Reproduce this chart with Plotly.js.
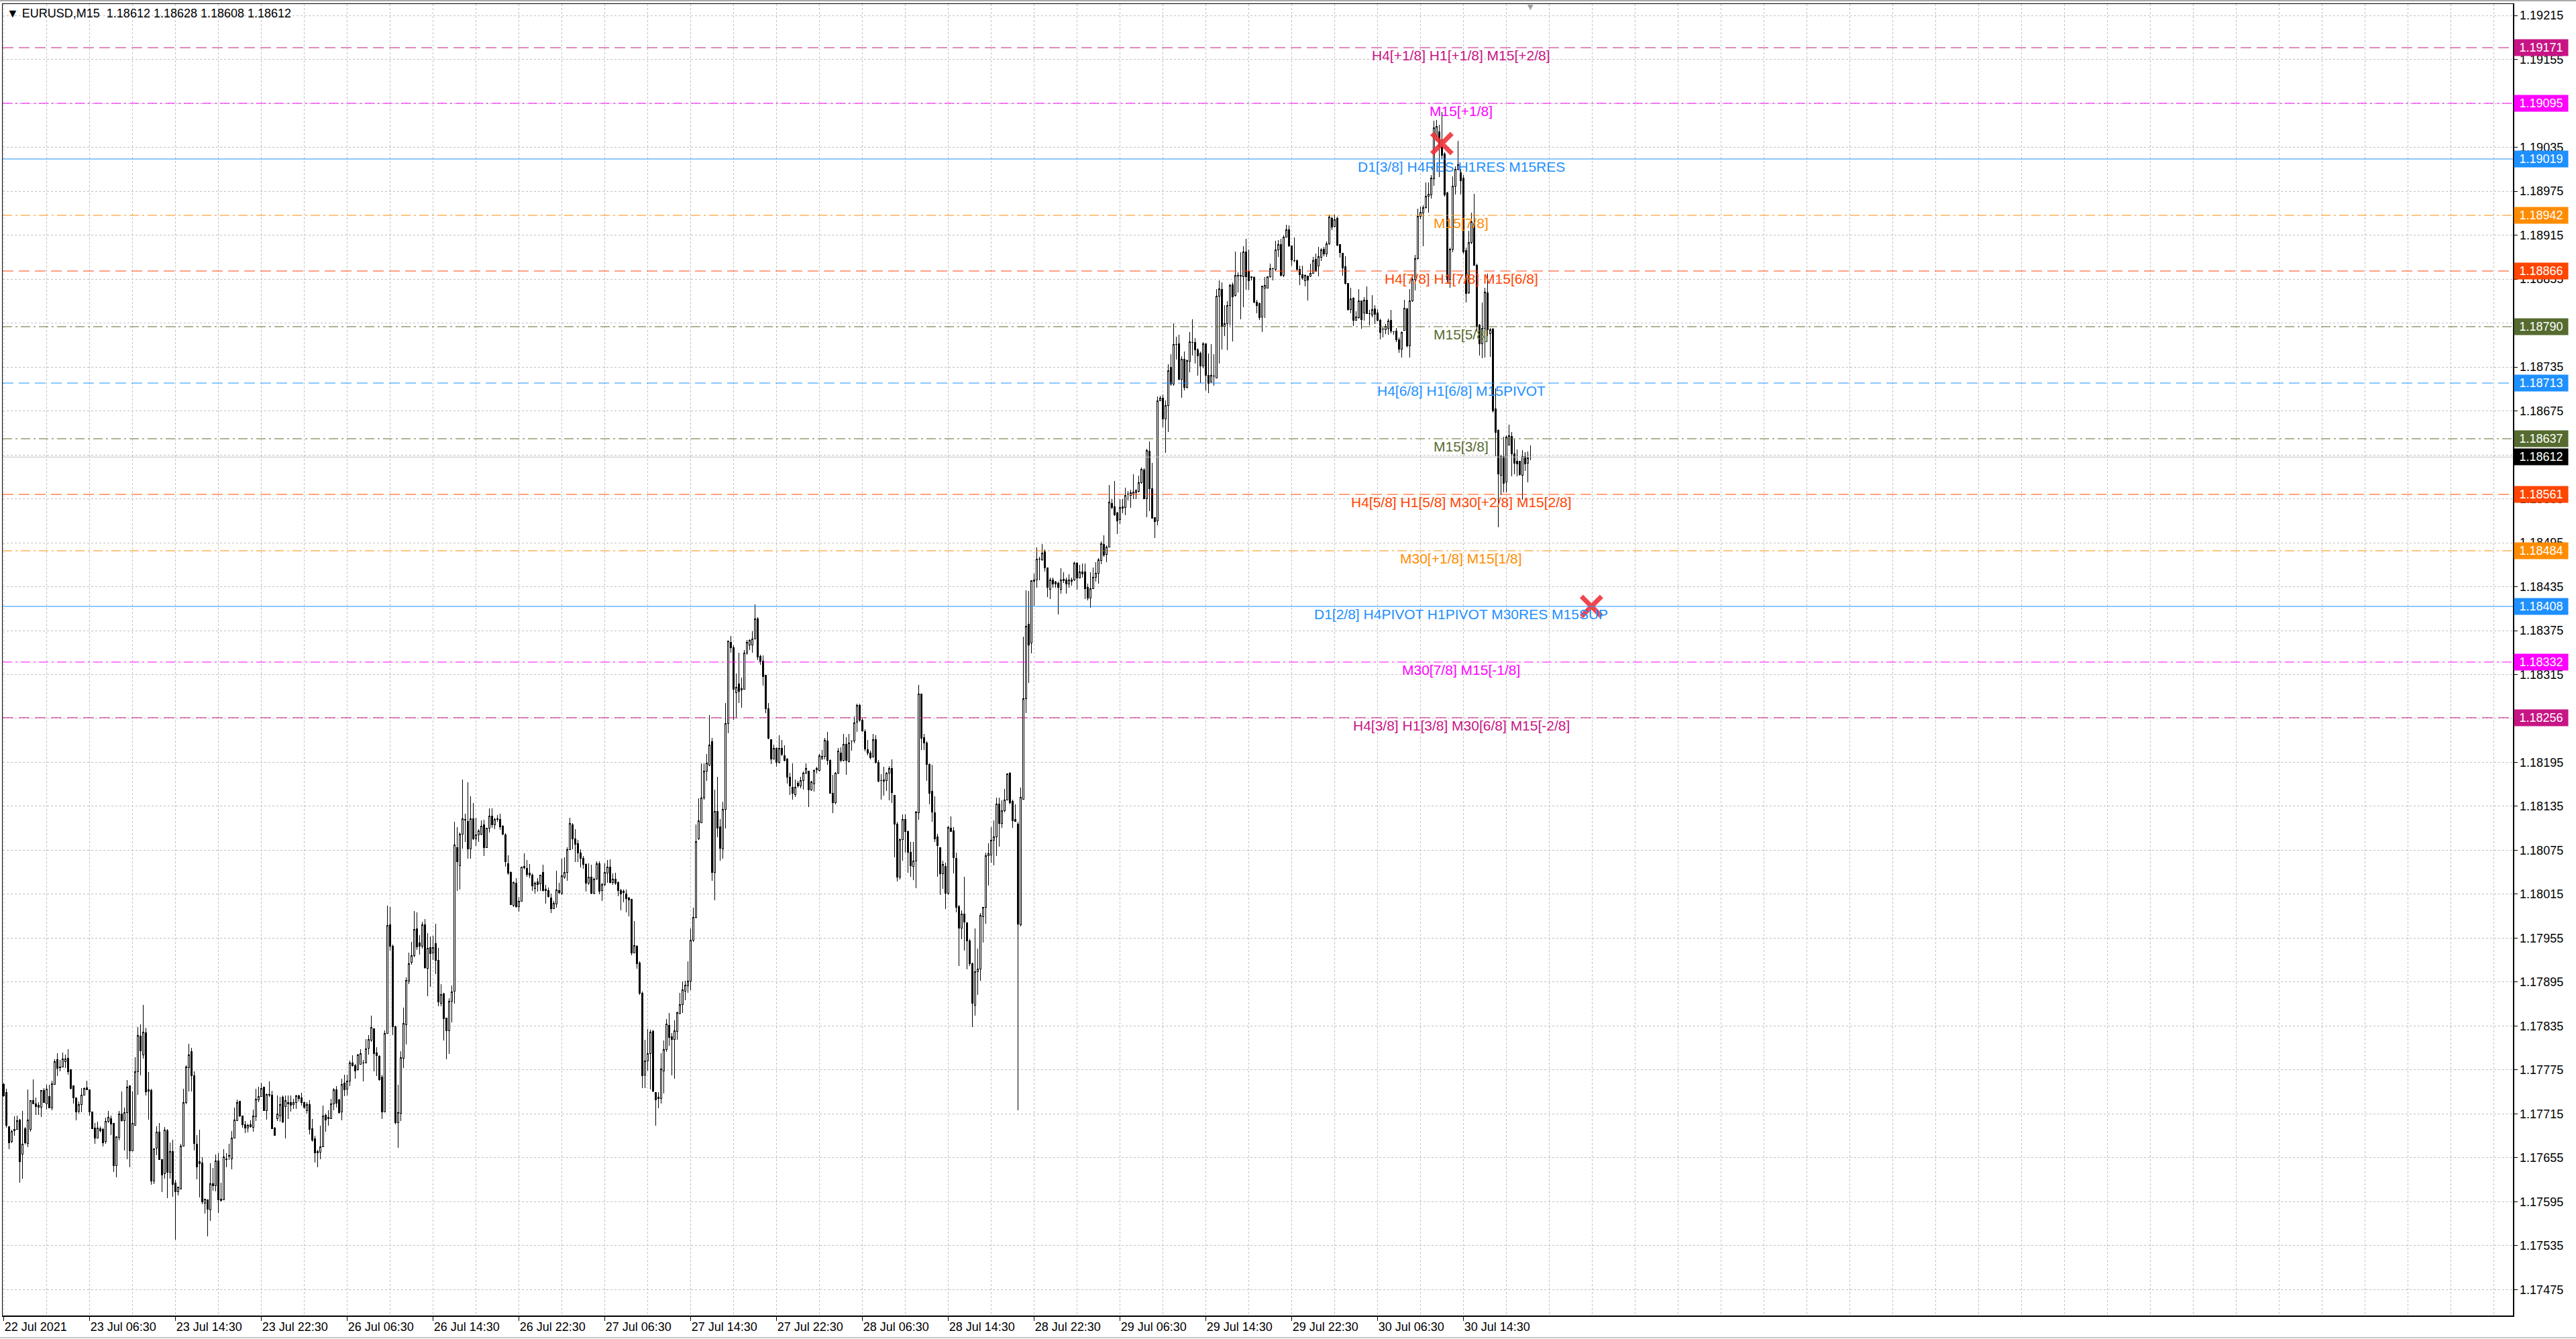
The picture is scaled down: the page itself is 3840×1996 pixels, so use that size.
<!DOCTYPE html>
<html>
<head>
<meta charset="utf-8">
<script src="https://cdn.plot.ly/plotly-3.0.1.min.js"></script>
<style>
  html, body { margin: 0; padding: 0; background: #fff; overflow: hidden; }
  #chart { width: 3840px; height: 1996px; }
  /* keep the thin candle outlines sharp */
  #chart .boxlayer path { shape-rendering: crispEdges; }
</style>
</head>
<body>
<div id="chart"></div>
<script>
/*
EURUSD M15 chart with Murrey-style level lines.
Bar prices are kept in points above 1.17000 (1 point = 0.00001).
*/
var symbolName = 'EURUSD';
var timeframe = 'M15';

var openPts = [
  755,744,698,677,692,694,707,660,695,675,
  694,733,729,727,724,747,729,739,723,755,
  789,779,779,786,791,775,753,737,719,728,
  741,751,748,718,696,682,695,694,677,705,
  709,702,644,683,715,706,717,753,665,699,
  773,821,796,826,746,747,623,668,690,653,
  633,692,635,664,621,609,612,671,731,778,
  800,767,674,650,648,593,598,584,620,617,
  651,597,598,654,658,654,682,706,732,712,
  700,696,700,697,711,734,739,752,720,742,
  741,696,709,712,738,725,731,731,728,731,
  740,737,731,720,728,695,681,664,663,670,
  713,709,709,729,748,734,718,757,749,760,
  785,781,775,783,785,785,805,816,831,798,
  794,765,718,825,973,944,834,703,716,791,
  837,896,922,931,968,949,944,973,914,942,
  935,948,925,866,879,846,829,869,883,1079,
  1054,1097,1117,1114,1077,1118,1091,1096,1097,1110,
  1079,1105,1122,1110,1118,1117,1108,1096,1057,1045,
  1000,1030,998,1005,1053,1050,1044,1041,1023,1032,
  1029,1045,1022,1020,1010,995,1002,1020,1016,1038,
  1045,1076,1110,1091,1084,1071,1064,1056,1030,1038,
  1016,1036,1057,1020,1028,1044,1052,1031,1036,1031,
  1020,1019,1015,1010,1008,935,944,921,880,768,
  787,797,828,744,736,736,774,803,836,820,
  817,828,852,864,883,890,896,952,983,1091,
  1113,1146,1183,1191,1223,1045,1128,1107,1077,1131,
  1248,1359,1352,1290,1302,1294,1295,1344,1355,1355,
  1364,1391,1340,1333,1314,1268,1226,1200,1214,1195,
  1214,1204,1200,1175,1161,1151,1167,1163,1170,1180,
  1183,1157,1166,1185,1184,1200,1203,1224,1198,1153,
  1140,1180,1208,1198,1220,1196,1224,1224,1250,1273,
  1253,1237,1212,1208,1203,1226,1195,1170,1169,1170,
  1180,1187,1150,1111,1038,1090,1117,1101,1072,1053,
  1060,1126,1288,1229,1222,1192,1156,1126,1093,1079,
  1043,1053,1016,1105,1102,1064,998,969,988,976,
  951,920,863,909,913,984,997,1068,1069,1089,
  1093,1138,1112,1129,1144,1180,1142,1117,1111,973,
  1145,1282,1384,1358,1442,1444,1473,1472,1483,1461,
  1431,1444,1441,1440,1431,1445,1444,1439,1442,1444,
  1467,1447,1455,1455,1434,1419,1432,1448,1453,1471,
  1493,1479,1489,1549,1544,1536,1527,1542,1543,1561,
  1560,1561,1563,1565,1577,1594,1555,1620,1569,1529,
  1525,1689,1692,1664,1682,1735,1712,1766,1767,1718,
  1746,1707,1743,1768,1768,1758,1754,1736,1767,1724,
  1714,1723,1720,1832,1841,1790,1794,1819,1847,1833,
  1860,1859,1858,1892,1866,1858,1857,1823,1822,1803,
  1843,1843,1858,1869,1868,1895,1902,1860,1912,1922,
  1900,1880,1880,1868,1861,1853,1859,1859,1863,1882,
  1873,1885,1896,1889,1903,1938,1927,1938,1902,1890,
  1872,1849,1813,1829,1799,1802,1825,1809,1826,1808,
  1806,1814,1809,1799,1787,1786,1788,1799,1783,1784,
  1772,1759,1785,1814,1764,1825,1855,1883,1941,1945,
  1953,1968,1970,1992,2051,2056,2036,2026,1973,1855,
  1896,1982,2005,2000,1993,1894,1836,1905,1931,1874,
  1792,1767,1788,1836,1780,1787,1678,1648,1587,1613,
  1578,1628,1640,1616,1606,1606,1587,1613,1604,1612
];

var highPts = [
  758,749,698,693,712,713,708,719,697,748,
  733,762,737,731,747,750,755,755,760,790,
  798,789,799,796,803,775,754,737,732,750,
  751,760,748,718,703,704,698,696,710,719,
  713,702,684,719,746,724,761,753,746,792,
  834,837,864,833,772,749,667,698,703,653,
  697,694,676,680,625,615,674,749,781,811,
  805,773,686,693,656,599,598,648,641,660,
  661,621,667,661,674,692,724,735,733,713,
  705,702,706,721,749,752,758,752,743,759,
  747,697,740,738,740,740,740,740,736,741,
  741,744,732,731,734,708,685,666,699,726,
  715,720,736,750,753,736,763,769,769,788,
  795,783,797,803,789,817,823,849,832,806,
  795,769,829,999,998,946,835,755,801,860,
  901,935,950,992,990,959,977,981,962,957,
  958,975,942,892,880,846,873,890,1114,1107,
  1099,1172,1125,1168,1149,1140,1119,1104,1116,1117,
  1106,1132,1132,1119,1123,1125,1109,1098,1068,1046,
  1032,1037,1011,1053,1071,1062,1056,1043,1032,1037,
  1042,1055,1028,1024,1016,1006,1047,1031,1064,1065,
  1079,1119,1112,1104,1089,1076,1067,1057,1057,1055,
  1038,1060,1060,1031,1057,1062,1063,1043,1044,1032,
  1022,1021,1021,1011,1009,978,945,923,882,816,
  831,830,830,745,745,798,815,845,853,825,
  843,855,880,896,897,923,968,997,1110,1146,
  1194,1194,1206,1260,1228,1158,1175,1118,1141,1276,
  1361,1368,1355,1316,1345,1311,1348,1362,1363,1374,
  1411,1393,1342,1341,1315,1276,1227,1219,1216,1232,
  1226,1218,1201,1181,1194,1172,1170,1175,1183,1194,
  1184,1170,1185,1189,1206,1212,1228,1237,1199,1178,
  1182,1215,1216,1234,1229,1234,1225,1258,1275,1275,
  1255,1240,1226,1211,1234,1232,1198,1179,1189,1182,
  1190,1199,1150,1114,1091,1124,1124,1102,1086,1086,
  1129,1301,1289,1234,1224,1194,1192,1149,1097,1079,
  1061,1058,1108,1121,1107,1072,1000,993,1039,976,
  954,922,968,941,989,998,1072,1085,1107,1116,
  1147,1147,1143,1159,1180,1182,1144,1138,1114,1161,
  1367,1430,1429,1444,1453,1489,1476,1493,1486,1461,
  1447,1447,1443,1442,1460,1455,1447,1452,1447,1469,
  1468,1465,1467,1467,1439,1455,1461,1468,1474,1497,
  1505,1491,1574,1555,1579,1537,1555,1555,1570,1566,
  1567,1588,1568,1587,1598,1597,1623,1633,1604,1530,
  1695,1696,1697,1689,1739,1752,1795,1776,1779,1750,
  1756,1745,1783,1800,1774,1761,1756,1769,1767,1753,
  1766,1752,1841,1853,1850,1819,1825,1849,1850,1893,
  1864,1892,1900,1910,1895,1858,1859,1827,1823,1846,
  1858,1859,1876,1871,1907,1908,1910,1915,1929,1928,
  1901,1912,1882,1873,1873,1861,1859,1876,1885,1890,
  1899,1897,1899,1906,1943,1940,1943,1940,1903,1891,
  1886,1849,1843,1830,1811,1841,1826,1830,1845,1813,
  1833,1819,1814,1801,1789,1794,1801,1813,1784,1788,
  1775,1784,1827,1816,1841,1859,1888,1951,1954,1956,
  1987,1987,1997,2071,2072,2066,2083,2028,1974,1898,
  1995,2009,2044,2005,1997,1898,1921,1946,1971,1876,
  1794,1823,1843,1862,1788,1788,1706,1650,1615,1640,
  1642,1656,1646,1636,1622,1607,1621,1619,1620,1628
];

var lowPts = [
  738,696,667,675,685,693,621,627,673,670,
  691,729,714,714,711,731,721,723,720,755,
  767,773,779,778,769,748,729,706,715,717,
  740,748,713,695,674,682,690,671,674,703,
  686,636,628,679,704,665,653,642,665,699,
  741,768,791,740,707,618,619,659,653,608,
  627,600,627,602,543,604,612,671,728,746,
  746,665,626,601,592,579,548,569,610,609,
  580,595,598,642,652,639,682,706,711,696,
  689,690,696,691,705,731,738,720,707,738,
  695,685,705,704,703,682,708,718,722,722,
  732,726,722,715,687,677,649,642,653,670,
  691,699,709,720,724,715,706,739,740,753,
  780,763,774,782,759,784,796,813,773,767,
  760,708,718,825,938,823,701,669,705,778,
  810,892,919,929,939,933,941,913,876,889,
  925,906,862,862,815,790,797,840,866,1020,
  1021,1077,1086,1064,1064,1089,1081,1086,1096,1067,
  1078,1099,1106,1104,1114,1103,1096,1053,1042,1000,
  998,997,991,1005,1049,1039,1037,1020,1016,1019,
  1020,1019,1002,1010,989,995,997,1015,1014,1036,
  1033,1075,1076,1059,1059,1052,1050,1019,1028,1015,
  1015,1036,1015,1006,1026,1031,1030,1028,1028,1012,
  993,1004,990,985,932,934,913,878,750,750,
  774,748,745,699,723,729,743,800,808,768,
  763,816,851,853,870,880,884,950,982,1089,
  1112,1144,1170,1190,1033,1007,1093,1061,1064,1105,
  1235,1345,1253,1257,1276,1270,1294,1342,1348,1345,
  1364,1335,1328,1300,1262,1227,1193,1199,1189,1194,
  1204,1196,1166,1151,1144,1148,1161,1160,1158,1179,
  1134,1156,1155,1180,1183,1199,1199,1192,1152,1126,
  1138,1179,1195,1196,1178,1195,1211,1221,1237,1250,
  1237,1210,1205,1199,1201,1194,1168,1144,1150,1156,
  1143,1140,1065,1032,1035,1061,1072,1044,1039,1034,
  1023,1117,1212,1212,1170,1138,1114,1086,1039,1014,
  1022,995,1014,1100,1043,990,917,954,938,912,
  917,834,849,878,897,949,975,1027,1058,1054,
  1067,1080,1106,1127,1143,1138,1106,1114,720,971,
  1144,1262,1304,1344,1409,1434,1444,1470,1456,1421,
  1418,1434,1434,1397,1425,1440,1425,1434,1436,1443,
  1431,1446,1447,1418,1416,1406,1432,1442,1439,1466,
  1476,1468,1489,1541,1532,1507,1521,1535,1533,1553,
  1543,1555,1555,1564,1576,1555,1530,1538,1528,1501,
  1519,1688,1653,1618,1646,1709,1709,1745,1717,1693,
  1703,1706,1728,1751,1740,1723,1713,1733,1703,1699,
  1714,1709,1720,1740,1759,1777,1758,1792,1770,1831,
  1837,1800,1817,1840,1840,1853,1822,1808,1799,1783,
  1802,1843,1857,1853,1866,1885,1859,1858,1912,1899,
  1873,1878,1866,1847,1854,1845,1826,1858,1862,1866,
  1859,1880,1886,1885,1902,1922,1926,1900,1884,1860,
  1848,1812,1808,1791,1798,1801,1787,1798,1807,1792,
  1803,1794,1797,1773,1775,1780,1779,1781,1779,1769,
  1754,1748,1785,1762,1748,1824,1839,1882,1937,1900,
  1951,1946,1965,1982,2044,1994,2019,1968,1850,1843,
  1892,1970,2003,1970,1890,1823,1835,1903,1874,1784,
  1751,1747,1748,1777,1749,1673,1613,1516,1560,1564,
  1564,1628,1586,1588,1586,1587,1554,1593,1577,1608
];

var closePts = [
  740,699,676,691,694,706,650,674,676,707,
  733,729,725,724,747,731,749,723,756,786,
  777,778,790,790,773,750,737,718,728,741,
  750,748,718,695,682,696,692,676,705,710,
  701,644,684,715,706,717,752,665,702,773,
  822,801,827,745,748,623,667,690,653,632,
  693,635,664,619,609,615,671,731,779,796,
  767,675,643,647,595,599,585,620,617,651,
  598,599,656,653,657,682,707,731,712,700,
  696,699,698,712,735,739,750,720,742,741,
  695,686,715,728,704,733,729,727,731,740,
  736,731,724,728,694,679,662,662,670,712,
  707,710,729,748,730,717,755,748,760,785,
  781,774,796,797,785,804,817,833,797,795,
  762,718,825,972,944,834,703,717,792,839,
  897,920,931,967,943,944,973,915,941,934,
  942,925,868,878,845,829,869,882,1082,1059,
  1097,1118,1116,1077,1118,1091,1096,1102,1108,1079,
  1105,1122,1110,1117,1117,1107,1097,1059,1044,1001,
  1031,998,1005,1052,1051,1042,1041,1026,1030,1028,
  1041,1020,1020,1012,995,1003,1021,1017,1040,1045,
  1076,1112,1091,1083,1071,1064,1056,1030,1038,1016,
  1036,1057,1019,1028,1045,1052,1031,1036,1030,1020,
  1015,1017,1009,1007,935,945,920,880,767,787,
  797,827,746,734,738,776,803,838,819,817,
  829,853,864,884,891,896,952,983,1087,1115,
  1146,1183,1194,1219,1045,1128,1105,1078,1131,1248,
  1361,1352,1295,1298,1292,1296,1344,1359,1362,1364,
  1391,1339,1333,1312,1268,1228,1200,1214,1195,1214,
  1206,1198,1175,1163,1153,1161,1163,1170,1180,1187,
  1157,1168,1184,1187,1204,1203,1225,1198,1153,1140,
  1180,1211,1198,1220,1198,1222,1224,1249,1273,1253,
  1238,1213,1208,1201,1226,1195,1169,1170,1171,1180,
  1187,1154,1111,1038,1090,1117,1101,1072,1054,1060,
  1127,1288,1228,1222,1192,1153,1127,1091,1081,1043,
  1056,1016,1106,1101,1065,997,969,988,977,951,
  920,866,909,913,986,997,1068,1070,1089,1093,
  1138,1112,1129,1144,1179,1140,1115,1114,974,1147,
  1282,1381,1355,1443,1444,1473,1473,1481,1461,1434,
  1444,1439,1439,1434,1444,1443,1439,1444,1444,1467,
  1447,1455,1452,1432,1419,1432,1448,1453,1472,1494,
  1478,1489,1550,1543,1533,1525,1543,1544,1560,1561,
  1563,1564,1566,1577,1595,1555,1621,1569,1528,1524,
  1689,1692,1664,1682,1730,1712,1766,1766,1718,1746,
  1707,1744,1769,1768,1758,1750,1736,1767,1724,1713,
  1724,1723,1832,1842,1790,1794,1819,1846,1831,1860,
  1859,1860,1892,1858,1853,1857,1823,1819,1802,1845,
  1846,1858,1869,1869,1895,1902,1860,1912,1922,1900,
  1881,1880,1868,1861,1856,1860,1854,1863,1880,1866,
  1886,1895,1889,1903,1940,1926,1936,1901,1891,1870,
  1849,1813,1828,1799,1803,1825,1800,1826,1808,1808,
  1813,1807,1799,1782,1787,1790,1798,1784,1783,1772,
  1759,1782,1815,1764,1825,1855,1883,1941,1946,1953,
  1968,1971,1993,2062,2063,2036,2024,1970,1855,1896,
  1982,2005,2011,1989,1892,1835,1905,1933,1874,1790,
  1767,1788,1837,1786,1786,1675,1646,1589,1613,1576,
  1639,1641,1616,1604,1603,1588,1613,1603,1611,1612
];

// time axis labels, one every 32 bars starting at bar 0
var timeLabels = [
  '22 Jul 2021', '23 Jul 06:30', '23 Jul 14:30', '23 Jul 22:30',
  '26 Jul 06:30', '26 Jul 14:30', '26 Jul 22:30', '27 Jul 06:30',
  '27 Jul 14:30', '27 Jul 22:30', '28 Jul 06:30', '28 Jul 14:30',
  '28 Jul 22:30', '29 Jul 06:30', '29 Jul 14:30', '29 Jul 22:30',
  '30 Jul 06:30', '30 Jul 14:30'
];

// level lines
var levelPrices = [1.19171, 1.19095, 1.19019, 1.18942, 1.18866, 1.18790, 1.18713,
                   1.18637, 1.18561, 1.18484, 1.18408, 1.18332, 1.18256];
var levelColors = ['#C71585', '#FF00FF', '#1E90FF', '#FF8C00', '#FF4500', '#556B2F', '#1E90FF',
                   '#556B2F', '#FF4500', '#FF8C00', '#1E90FF', '#FF00FF', '#C71585'];
var levelStyles = ['dash', 'dashdot', 'solid', 'dashdot', 'dash', 'dashdot', 'dash',
                   'dashdot', 'dash', 'dashdot', 'solid', 'dashdot', 'dash'];
var levelNames = [
  'H4[+1/8] H1[+1/8] M15[+2/8]',
  'M15[+1/8]',
  'D1[3/8] H4RES H1RES M15RES',
  'M15[7/8]',
  'H4[7/8] H1[7/8] M15[6/8]',
  'M15[5/8]',
  'H4[6/8] H1[6/8] M15PIVOT',
  'M15[3/8]',
  'H4[5/8] H1[5/8] M30[+2/8] M15[2/8]',
  'M30[+1/8] M15[1/8]',
  'D1[2/8] H4PIVOT H1PIVOT M30RES M15SUP',
  'M30[7/8] M15[-1/8]',
  'H4[3/8] H1[3/8] M30[6/8] M15[-2/8]'
];

// signal crosses (bar index, price)
var crossIndex = [536, 591.75];
var crossPrice = [1.19040, 1.18408];

var FONT = "'Liberation Sans', Arial, sans-serif";
var GRID = '#c0c0c0';

function toPrice(p) { return +(1.17 + p * 0.00001).toFixed(5); }

var n = closePts.length;
var barIndex = [];
for (var i = 0; i < n; i++) barIndex.push(i);

var bars = {
  type: 'candlestick',
  x: barIndex,
  open: openPts.map(toPrice),
  high: highPts.map(toPrice),
  low: lowPts.map(toPrice),
  close: closePts.map(toPrice),
  increasing: { line: { color: '#000000', width: 1 }, fillcolor: '#ffffff' },
  decreasing: { line: { color: '#000000', width: 1 }, fillcolor: '#000000' },
  whiskerwidth: 0,
  hoverinfo: 'skip'
};

var crosses = {
  type: 'scatter',
  mode: 'markers',
  x: crossIndex,
  y: crossPrice,
  marker: {
    symbol: 'x-thin-open', size: 30,
    color: 'rgba(238,50,58,0.9)',
    line: { width: 7, color: 'rgba(238,50,58,0.9)' }
  },
  hoverinfo: 'skip'
};

// tick positions: labels every 32 bars, grid every 16
var tickVals = [], tickText = [];
for (var k = 0; k < timeLabels.length; k++) {
  tickVals.push(k * 32);
  tickText.push(timeLabels[k]);
}

var dashPattern = { solid: 'solid', dash: '16px,8px', dashdot: '14px,5px,3px,5px' };
var shapes = [];
var annotations = [];

levelPrices.forEach(function (p, k) {
  shapes.push({
    type: 'line', xref: 'paper', x0: 0, x1: 1, yref: 'y', y0: p, y1: p,
    line: { color: levelColors[k], width: 1, dash: dashPattern[levelStyles[k]] }
  });
  annotations.push({
    xref: 'x', x: 543.2, xanchor: 'center',
    yref: 'y', y: p, yanchor: 'top', yshift: 2,
    text: levelNames[k], showarrow: false,
    font: { family: FONT, size: 21, color: levelColors[k] }
  });
});

// bid line
var lastClose = toPrice(closePts[n - 1]);
shapes.push({
  type: 'line', xref: 'paper', x0: 0, x1: 1, yref: 'y', y0: lastClose, y1: lastClose,
  line: { color: '#c0c0c0', width: 1 }
});

// window borders above and below the chart
shapes.push({
  type: 'line', xref: 'paper', x0: -0.002, x1: 1.03, yref: 'paper',
  y0: 1 + 5 / 1955, y1: 1 + 5 / 1955, line: { color: '#a8a8a8', width: 2 }
});
shapes.push({
  type: 'line', xref: 'paper', x0: -0.002, x1: 1.03, yref: 'paper',
  y0: -33 / 1955, y1: -33 / 1955, line: { color: '#c8c8c8', width: 2 }
});

// price tags on the right axis
function priceTag(p, color) {
  return {
    xref: 'paper', x: 1, xanchor: 'left', xshift: 1,
    yref: 'y', y: p, yanchor: 'middle',
    text: p.toFixed(5), showarrow: false,
    bgcolor: color, width: 78, height: 22, borderpad: 1,
    font: { family: FONT, size: 18, color: '#ffffff' }
  };
}
levelPrices.forEach(function (p, k) { annotations.push(priceTag(p, levelColors[k])); });
annotations.push(priceTag(lastClose, '#000000'));

// chart header: symbol, timeframe and OHLC of the last bar
var ohlc = [openPts[n - 1], highPts[n - 1], lowPts[n - 1], closePts[n - 1]]
  .map(function (v) { return toPrice(v).toFixed(5); }).join(' ');
annotations.push({
  xref: 'paper', x: 0, xanchor: 'left', xshift: 4,
  yref: 'paper', y: 1, yanchor: 'top', yshift: -2,
  text: '\u25BC ' + symbolName + ',' + timeframe + '\u00a0\u00a0' + ohlc,
  showarrow: false,
  font: { family: FONT, size: 18, color: '#000000' }
});

// chart shift marker above the last bar
annotations.push({
  xref: 'x', x: n - 1, xanchor: 'center',
  yref: 'paper', y: 1, yanchor: 'top', yshift: 4,
  text: '\u25BC', showarrow: false,
  font: { family: 'DejaVu Sans', size: 11, color: '#a0a0a0' }
});

var layout = {
  width: 3840,
  height: 1996,
  margin: { l: 4, r: 94, t: 6, b: 35, pad: 0 },
  paper_bgcolor: '#ffffff',
  plot_bgcolor: '#ffffff',
  showlegend: false,
  hovermode: false,
  dragmode: false,
  boxgap: 0.4,
  boxgroupgap: 0,
  font: { family: FONT, size: 18, color: '#000000' },
  xaxis: {
    type: 'linear',
    range: [-0.35, 935.15],
    rangeslider: { visible: false },
    tickmode: 'array',
    tickvals: tickVals,
    ticktext: tickText,
    ticks: 'outside',
    ticklen: 6,
    tickcolor: '#000000',
    ticklabelposition: 'outside right',
    tickfont: { family: FONT, size: 18, color: '#000000' },
    showgrid: true,
    gridcolor: GRID,
    gridwidth: 1,
    griddash: '3px,3px',
    minor: { tickmode: 'linear', tick0: 0, dtick: 16, showgrid: true,
             gridcolor: GRID, gridwidth: 1, griddash: '3px,3px', ticks: '' },
    showline: true,
    linecolor: '#000000',
    linewidth: 1.5,
    mirror: true,
    zeroline: false,
    fixedrange: true
  },
  yaxis: {
    side: 'right',
    range: [1.174397, 1.192306],
    tickmode: 'linear',
    tick0: 1.17475,
    dtick: 0.0006,
    tickformat: '.5f',
    ticks: 'outside',
    ticklen: 5,
    tickcolor: '#000000',
    tickfont: { family: FONT, size: 18, color: '#000000' },
    showgrid: true,
    gridcolor: GRID,
    gridwidth: 1,
    griddash: '3px,3px',
    showline: true,
    linecolor: '#000000',
    linewidth: 1.5,
    mirror: true,
    zeroline: false,
    fixedrange: true
  },
  shapes: shapes,
  annotations: annotations
};

Plotly.newPlot('chart', [bars, crosses], layout, { staticPlot: true, displayModeBar: false });
</script>
</body>
</html>
